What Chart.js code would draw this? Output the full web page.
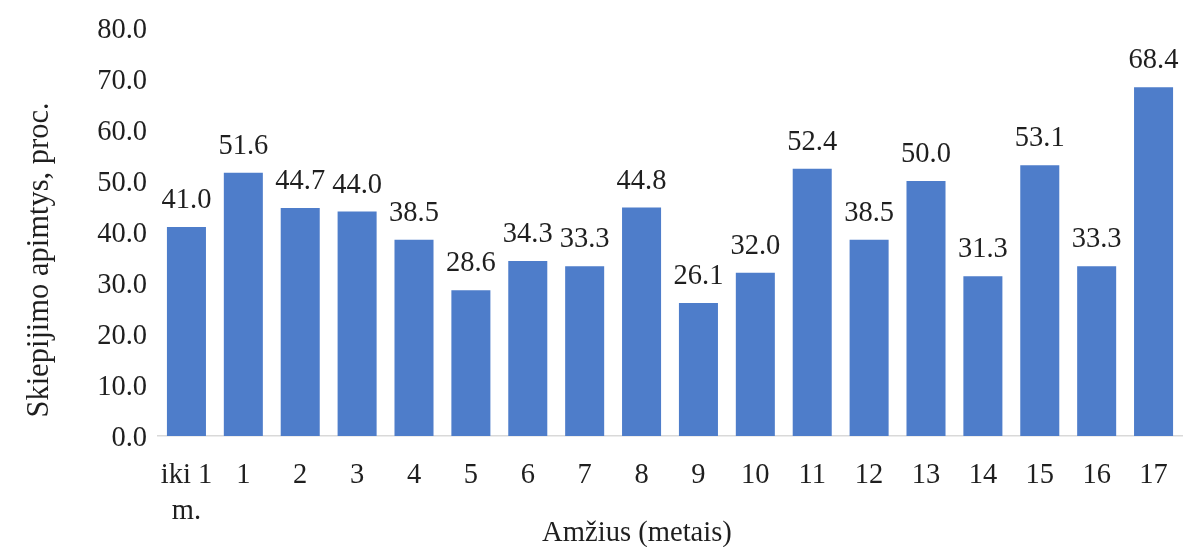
<!DOCTYPE html>
<html lang="lt">
<head>
<meta charset="utf-8">
<title>Skiepijimo apimtys pagal amžių</title>
<script src="https://cdn.jsdelivr.net/npm/chart.js@4.4.1/dist/chart.umd.min.js"></script>
<style>
  html, body { margin: 0; padding: 0; background: #ffffff; }
  #wrap { width: 1183px; height: 547px; }
</style>
</head>
<body>
<div id="wrap"><canvas id="chart" width="1183" height="547"></canvas></div>
<script>
// Amžiaus grupės (metais)
const categories = [['iki 1', 'm.'], '1', '2', '3', '4', '5', '6', '7', '8', '9', '10', '11', '12', '13', '14', '15', '16', '17'];
// Skiepijimo apimtys, proc.
const coverage = [41.0, 51.6, 44.7, 44.0, 38.5, 28.6, 34.3, 33.3, 44.8, 26.1, 32.0, 52.4, 38.5, 50.0, 31.3, 53.1, 33.3, 68.4];
// Y ašies ribos
const yMin = 0;
const yMax = 80;
const yStep = 10;
// Ašių pavadinimai
const xTitle = 'Amžius (metais)';
const yTitle = 'Skiepijimo apimtys, proc.';

const FONT = '"Liberation Serif", "Times New Roman", serif';
const TEXT = '#1f1f1f';

// Reikšmių užrašai virš stulpelių ir ašių pavadinimai
const annotate = {
  id: 'annotate',
  afterDatasetsDraw(chart) {
    const ctx = chart.ctx;
    const meta = chart.getDatasetMeta(0);
    const values = chart.data.datasets[0].data;
    ctx.save();
    ctx.font = '28.5px ' + FONT;
    ctx.fillStyle = TEXT;
    ctx.textAlign = 'center';
    ctx.textBaseline = 'alphabetic';
    meta.data.forEach((bar, i) => {
      ctx.fillText(values[i].toFixed(1), bar.x, bar.y - 19);
    });

    // X ašies pavadinimas
    ctx.font = '28.6px ' + FONT;
    ctx.fillText(xTitle, 637, 541);

    // Y ašies pavadinimas (pasuktas)
    ctx.translate(48, 260);
    ctx.rotate(-Math.PI / 2);
    ctx.font = '30.5px ' + FONT;
    ctx.fillText(yTitle, 0, 0);
    ctx.restore();
  }
};

new Chart(document.getElementById('chart'), {
  type: 'bar',
  data: {
    labels: categories,
    datasets: [{
      data: coverage,
      backgroundColor: '#4e7dca',
      borderWidth: 0,
      categoryPercentage: 1.0,
      barPercentage: 0.686
    }]
  },
  options: {
    responsive: false,
    animation: false,
    devicePixelRatio: 1,
    layout: { padding: { top: 28, right: 1, bottom: 0, left: 0 } },
    plugins: {
      legend: { display: false },
      tooltip: { enabled: false }
    },
    scales: {
      x: {
        grid: { display: false, drawTicks: false },
        border: { display: true, color: '#d9d9d9', width: 1.5 },
        ticks: {
          color: TEXT,
          font: { family: FONT, size: 28.5, lineHeight: '36px' },
          padding: 22,
          maxRotation: 0,
          autoSkip: false
        },
        afterFit(scale) {
          scale.height = 111;
          scale.paddingLeft = 0;
          scale.paddingRight = 0;
        }
      },
      y: {
        min: yMin,
        max: yMax,
        grid: { display: false, drawTicks: false },
        border: { display: false },
        ticks: {
          stepSize: yStep,
          color: TEXT,
          // an empty leading line nudges each label a few pixels lower
          font: { family: FONT, size: 28.5, lineHeight: '6px' },
          padding: 11,
          callback: (v) => ['', Number(v).toFixed(1)]
        },
        afterFit(scale) {
          scale.width = 158;
          scale.paddingTop = 0;
          scale.paddingBottom = 0;
        }
      }
    }
  },
  plugins: [annotate]
});
</script>
</body>
</html>
